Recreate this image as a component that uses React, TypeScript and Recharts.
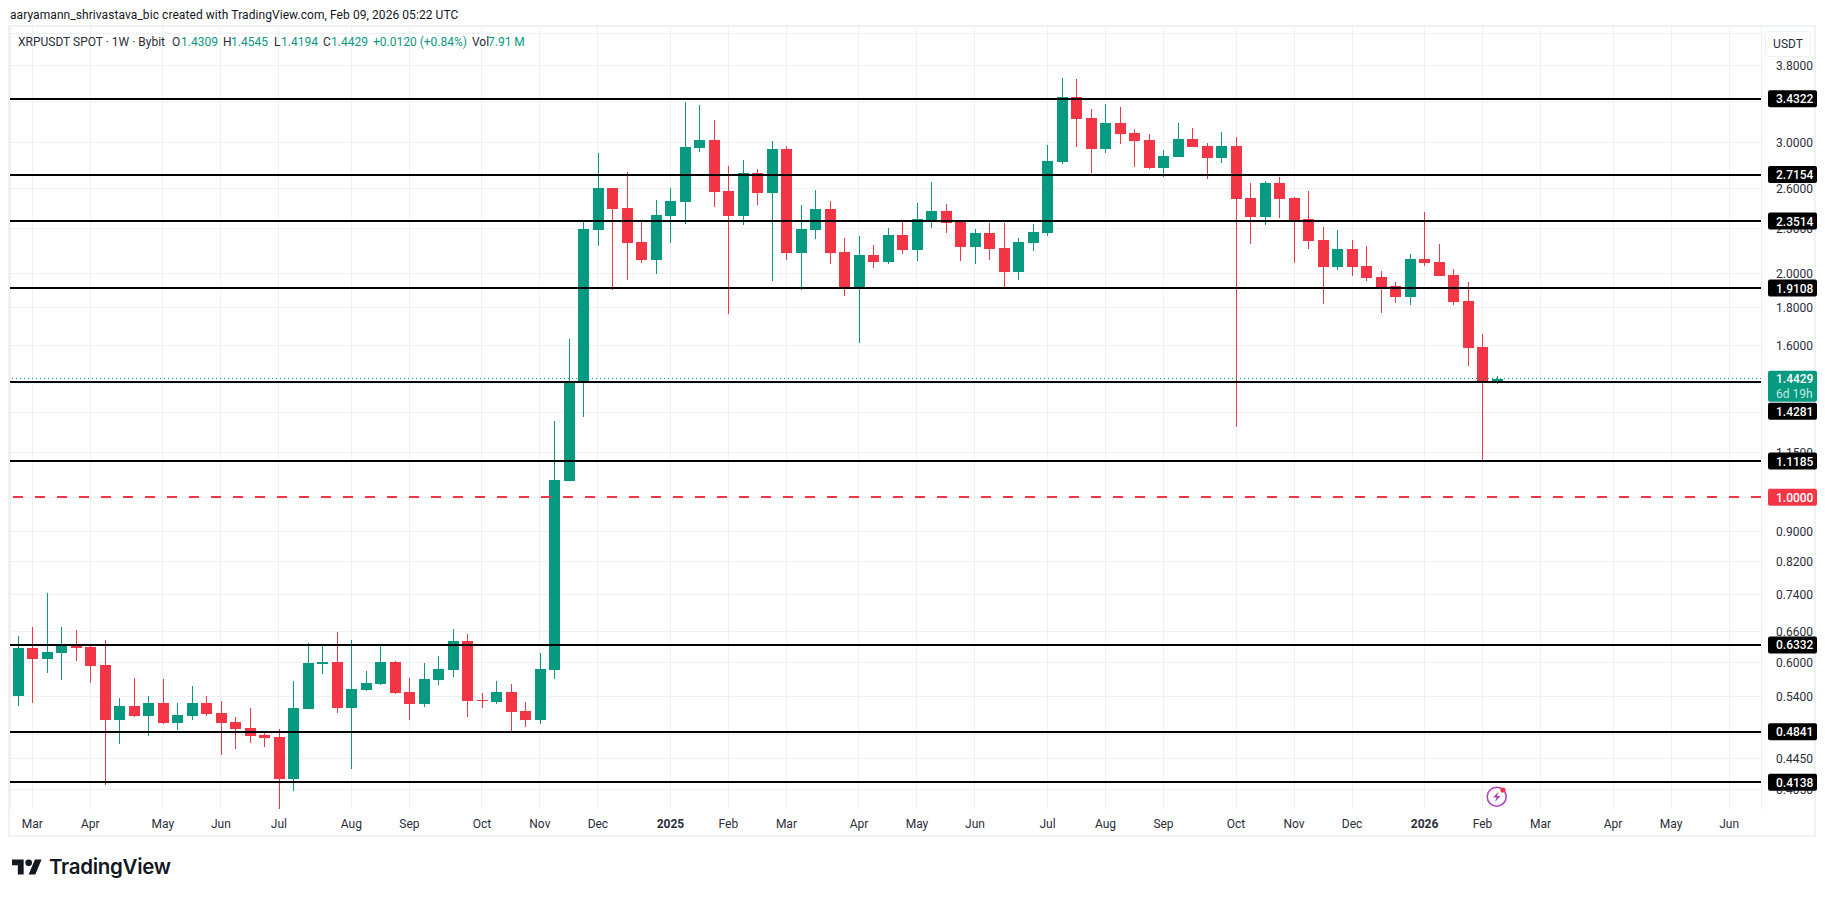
import React from 'react';
import { Bar, CartesianGrid, Cell, ComposedChart, ReferenceLine, XAxis, YAxis } from 'recharts';

// Weekly XRPUSDT candles
const opens = [
  0.5404, 0.627, 0.6059, 0.6173, 0.6328, 0.6289, 0.5948, 0.5017, 0.5239, 0.5079,
  0.5288, 0.497, 0.5079, 0.5288, 0.5127, 0.4986, 0.4895, 0.4789, 0.4759, 0.4179,
  0.519, 0.5966, 0.6003, 0.5206, 0.5505, 0.5608, 0.6003, 0.5471, 0.5271, 0.5678,
  0.5856, 0.6407, 0.5337, 0.5304, 0.5471, 0.5158, 0.5017, 0.5857, 1.0513, 1.4284,
  2.287, 2.6044, 2.4484, 2.2034, 2.0842, 2.388, 2.4941, 2.9478, 3.0217, 2.5804,
  2.388, 2.7283, 2.5645, 2.9389, 2.1298, 2.287, 2.4407, 2.1364, 1.915, 2.1167,
  2.071, 2.2518, 2.1496, 2.3586, 2.4256, 2.3443, 2.1697, 2.2657, 2.1631, 2.0079,
  2.1964, 2.2657, 2.8227, 3.4518, 3.2346, 2.9389, 3.1851, 3.0879, 3.0217, 2.7709,
  2.8669, 3.031, 2.966, 2.858, 2.966, 2.525, 2.3807, 2.6451, 2.525, 2.366,
  2.2169, 2.0393, 2.1562, 2.0458, 1.9773, 1.9227, 1.8585, 2.0903, 2.071, 1.9897,
  1.8356, 1.5921, 1.4309,
];
const highs = [
  0.6507, 0.6691, 0.7433, 0.6691, 0.6629, 0.6328, 0.6427, 0.537, 0.5713, 0.5404,
  0.5696, 0.5288, 0.5573, 0.5404, 0.5321, 0.5064, 0.5206, 0.4819, 0.4879, 0.5661,
  0.6367, 0.6328, 0.6588, 0.6427, 0.5839, 0.6308, 0.6022, 0.5713, 0.5985, 0.6116,
  0.6649, 0.6547, 0.5454, 0.5661, 0.5608, 0.5304, 0.6173, 1.2661, 1.6318, 2.3516,
  2.9025, 2.6044, 2.7368, 2.3516, 2.5096, 2.6044, 3.3992, 3.3678, 3.2149, 2.7879,
  2.8402, 2.7623, 3.0124, 2.966, 2.4709, 2.5885, 2.5018, 2.2309, 2.2448, 2.1832,
  2.3013, 2.3586, 2.4864, 2.6532, 2.4786, 2.3586, 2.294, 2.3369, 2.3369, 2.2309,
  2.33, 2.9753, 3.6612, 3.65, 3.326, 3.3782, 3.3469, 3.1266, 3.0786, 2.9296,
  3.1851, 3.1363, 2.9939, 3.0976, 3.05, 2.6451, 2.6617, 2.6946, 2.5332, 2.5804,
  2.3083, 2.287, 2.2169, 2.1763, 2.0141, 1.9467, 2.1232, 2.4178, 2.1898, 2.0269,
  1.9467, 1.6572, 1.4545,
];
const lows = [
  0.5239, 0.5288, 0.5802, 0.5678, 0.6022, 0.5626, 0.4102, 0.4658, 0.5064, 0.4774,
  0.4955, 0.4864, 0.5017, 0.5079, 0.4501, 0.4586, 0.4672, 0.4614, 0.3815, 0.4026,
  0.519, 0.5785, 0.5127, 0.431, 0.5488, 0.5591, 0.5437, 0.5017, 0.5223, 0.5591,
  0.5731, 0.5064, 0.5206, 0.5271, 0.4849, 0.4909, 0.4955, 0.5695, 1.0513, 1.2819,
  2.1763, 1.8991, 1.9591, 2.0648, 1.9959, 2.1964, 2.33, 2.9118, 2.4558, 1.7632,
  2.3226, 2.4709, 1.9529, 2.0842, 1.8991, 2.2239, 2.0582, 1.8643, 1.6119, 2.0331,
  2.0582, 2.1232, 2.0776, 2.3013, 2.2657, 2.0776, 2.0582, 2.0842, 1.9049, 1.9591,
  2.143, 2.2448, 2.8053, 2.9571, 2.7283, 2.9025, 2.9845, 2.7794, 2.7623, 2.6946,
  2.8669, 2.9571, 2.678, 2.8142, 1.2427, 2.1898, 2.3226, 2.3733, 2.0648, 2.1562,
  1.8186, 2.0207, 1.9835, 1.9529, 1.7687, 1.8244, 1.8132, 2.0458, 1.9835, 1.8132,
  1.5011, 1.1185, 1.4194,
];
const closes = [
  0.627, 0.6059, 0.6192, 0.6328, 0.627, 0.5929, 0.5017, 0.5239, 0.5079, 0.5288,
  0.4965, 0.5095, 0.5288, 0.511, 0.497, 0.4879, 0.4774, 0.4744, 0.4179, 0.5206,
  0.5985, 0.6003, 0.5206, 0.5522, 0.5626, 0.6003, 0.5454, 0.5271, 0.5696, 0.5875,
  0.6407, 0.5321, 0.5321, 0.5471, 0.5142, 0.5017, 0.5875, 1.0547, 1.433, 2.294,
  2.6044, 2.4407, 2.1964, 2.0842, 2.3954, 2.5018, 2.9571, 3.0217, 2.5723, 2.388,
  2.7283, 2.5645, 2.9389, 2.1298, 2.294, 2.4407, 2.1298, 1.915, 2.1167, 2.071,
  2.2518, 2.1496, 2.366, 2.4256, 2.3369, 2.1697, 2.2657, 2.1562, 2.0079, 2.2034,
  2.2727, 2.8316, 3.4518, 3.2245, 2.9389, 3.1851, 3.0786, 3.0124, 2.7709, 2.8758,
  3.031, 2.9571, 2.858, 2.966, 2.5173, 2.3807, 2.6451, 2.5173, 2.3586, 2.2104,
  2.0393, 2.1562, 2.0393, 1.9711, 1.9111, 1.8585, 2.0903, 2.0648, 1.9835, 1.8298,
  1.5871, 1.4309, 1.4429,
];

// week index of each month gridline
const monthWeeks = [1, 5, 10, 14, 18, 23, 27, 32, 36, 40, 45, 49, 53, 58, 62, 66, 71, 75, 79, 84, 88, 92, 97, 101, 105, 110, 114, 118];
const monthLabels = ['Mar', 'Apr', 'May', 'Jun', 'Jul', 'Aug', 'Sep', 'Oct', 'Nov', 'Dec', '2025', 'Feb', 'Mar', 'Apr', 'May', 'Jun', 'Jul', 'Aug', 'Sep', 'Oct', 'Nov', 'Dec', '2026', 'Feb', 'Mar', 'Apr', 'May', 'Jun'];

const priceTicks = [4.2, 3.8, 3.4, 3.0, 2.6, 2.3, 2.0, 1.8, 1.6, 1.3, 1.15, 0.9, 0.82, 0.74, 0.66, 0.6, 0.54, 0.48, 0.445, 0.405];
// these only draw a gridline, their label sits fully behind a price tag or the USDT button
const gridOnlyTicks = [4.2, 3.4, 1.3];
const levels = [3.4322, 2.7154, 2.3514, 1.9108, 1.1185, 0.6332, 0.4841, 0.4138, 1.4281];
const lastPrice = 1.4429;
const redLevel = 1.0;

const GREEN = '#089981';
const RED = '#F23645';
const TEXT = '#2a2e39';
const FONT = 'Roboto, sans-serif';

const candles = opens.map((open, i) => ({
  week: i,
  open,
  close: closes[i],
  wick: [lows[i], highs[i]],
  body: [Math.min(open, closes[i]), Math.max(open, closes[i])],
}));

// ticks draw in array order, so the tags go last to sit on top of the plain labels
const PriceTick = ({ x, y, payload }: any) => {
  const value = payload.value;
  if (value === lastPrice) {
    return (
      <g>
        <rect x={x - 8} y={y - 8} width={49} height={31} rx={2} fill={GREEN} />
        <text x={x} y={y + 4.5} fontSize={12} fontWeight={500} fontFamily={FONT} fill="#fff">{value.toFixed(4)}</text>
        <text x={x} y={y + 19} fontSize={12} fontFamily={FONT} fill="#c4e8e1">6d 19h</text>
      </g>
    );
  }
  if (value === redLevel || levels.includes(value)) {
    const cy = value === 1.4281 ? y + 29 : y;
    return (
      <g>
        <rect x={x - 8} y={cy - 8.5} width={49} height={17} rx={2} fill={value === redLevel ? RED : '#000'} />
        <text x={x} y={cy + 4.5} fontSize={12} fontWeight={500} fontFamily={FONT} fill="#fff">{value.toFixed(4)}</text>
      </g>
    );
  }
  if (gridOnlyTicks.includes(value)) return <g />;
  return (
    <text x={x} y={y + 4.5} fontSize={12} fontFamily={FONT} fill={TEXT}>{value.toFixed(4)}</text>
  );
};

const MonthTick = ({ x, y, payload }: any) => {
  const label = monthLabels[monthWeeks.indexOf(payload.value)];
  const bold = label === '2025' || label === '2026';
  return (
    <text x={x} y={y} dy={11} textAnchor="middle" fontSize={12} fontWeight={bold ? 700 : 400} fontFamily={FONT} fill={TEXT}>
      {label}
    </text>
  );
};

const Tok = ({ x, color = TEXT, children }: any) => (
  <span style={{ position: 'absolute', left: x, top: 35, fontSize: 12, lineHeight: '14px', color, whiteSpace: 'nowrap' }}>{children}</span>
);

export default function App() {
  return (
    <div style={{ position: 'absolute', left: 0, top: 0, width: 1825, height: 897, background: '#fff', fontFamily: FONT, overflow: 'hidden' }}>
      <div style={{ position: 'absolute', left: 10, top: 8, fontSize: 12, lineHeight: '14px', letterSpacing: '0.07px', color: '#131722', whiteSpace: 'nowrap' }}>
        aaryamann_shrivastava_bic created with TradingView.com, Feb 09, 2026 05:22 UTC
      </div>
      <div style={{ position: 'absolute', left: 8, top: 25, width: 1804, height: 808, border: '2px solid #f0f1f3' }} />

      <div style={{ position: 'absolute', left: 0, top: 0 }}>
        <ComposedChart width={1825} height={897} data={candles} margin={{ top: 27, right: 10, bottom: 60, left: 10 }}>
          <CartesianGrid xAxisId="body" stroke="#eff0f3" strokeWidth={1} shapeRendering="crispEdges" horizontalValues={[...priceTicks, redLevel]} />
          <XAxis
            xAxisId="body"
            dataKey="week"
            type="number"
            domain={[-0.538, 120.2]}
            allowDataOverflow
            ticks={monthWeeks}
            interval={0}
            axisLine={false}
            tickLine={false}
            height={28}
            tick={<MonthTick />}
          />
          <XAxis xAxisId="wick" dataKey="week" type="number" domain={[-0.538, 120.2]} allowDataOverflow hide />
          <YAxis
            orientation="right"
            scale="log"
            type="number"
            domain={[0.381, 4.287]}
            allowDataOverflow
            ticks={[...priceTicks, redLevel, lastPrice, ...levels]}
            interval={0}
            width={54}
            axisLine={false}
            tickLine={false}
            tickMargin={9}
            tick={<PriceTick />}
          />
          <ReferenceLine xAxisId="body" y={redLevel} stroke={RED} strokeWidth={2} strokeDasharray="10 12" shapeRendering="crispEdges" />
          <ReferenceLine xAxisId="body" y={lastPrice} stroke={GREEN} strokeWidth={1} strokeDasharray="1 3" shapeRendering="crispEdges" />
          {levels.map((level) => (
            <ReferenceLine key={level} xAxisId="body" y={level} stroke="#000" strokeWidth={2} shapeRendering="crispEdges" />
          ))}
          <Bar xAxisId="wick" dataKey="wick" barSize={1} isAnimationActive={false} shapeRendering="crispEdges">
            {candles.map((c) => (
              <Cell key={c.week} fill={c.close >= c.open ? GREEN : RED} />
            ))}
          </Bar>
          <Bar xAxisId="body" dataKey="body" barSize={11} isAnimationActive={false} shapeRendering="crispEdges">
            {candles.map((c) => (
              <Cell key={c.week} fill={c.close >= c.open ? GREEN : RED} />
            ))}
          </Bar>
        </ComposedChart>
      </div>

      <Tok x={18}>XRPUSDT SPOT · 1W · Bybit</Tok>
      <Tok x={172}>O</Tok>
      <Tok x={181} color={GREEN}>1.4309</Tok>
      <Tok x={223}>H</Tok>
      <Tok x={231} color={GREEN}>1.4545</Tok>
      <Tok x={274}>L</Tok>
      <Tok x={281} color={GREEN}>1.4194</Tok>
      <Tok x={323}>C</Tok>
      <Tok x={331} color={GREEN}>1.4429</Tok>
      <Tok x={373} color={GREEN}>+0.0120 (+0.84%)</Tok>
      <Tok x={472}>Vol</Tok>
      <Tok x={488} color={GREEN}>7.91 M</Tok>

      <div style={{ position: 'absolute', left: 1765, top: 31, width: 44, height: 24, border: '1px solid #f0f1f3', borderRadius: 4, background: '#fff', fontSize: 12, lineHeight: '24px', textAlign: 'center', color: TEXT }}>
        USDT
      </div>

      <svg style={{ position: 'absolute', left: 1485, top: 785 }} width={24} height={24} viewBox="0 0 24 24">
        <circle cx={11.7} cy={11.7} r={9.5} fill="#fff" stroke="#ab47bc" strokeWidth={1.6} />
        <path d="M13.5 6.5 L8 12.5 H11.5 L10 17 L15.5 11 H12 Z" fill="#ab47bc" />
        <circle cx={18} cy={5} r={2.6} fill={RED} />
      </svg>

      <svg style={{ position: 'absolute', left: 12, top: 859 }} width={30} height={16} viewBox="0 0 36 18">
        <path d="M14 18H7V7H0V0h14v18zM28 18h-8l7.5-18h8L28 18z" fill="#131722" />
        <circle cx={20} cy={4} r={4} fill="#131722" />
      </svg>
      <div style={{ position: 'absolute', left: 49, top: 853, fontFamily: 'Inter, sans-serif', fontSize: 20.5, fontWeight: 600, lineHeight: '28px', letterSpacing: '-0.3px', color: '#131722' }}>
        TradingView
      </div>
    </div>
  );
}
